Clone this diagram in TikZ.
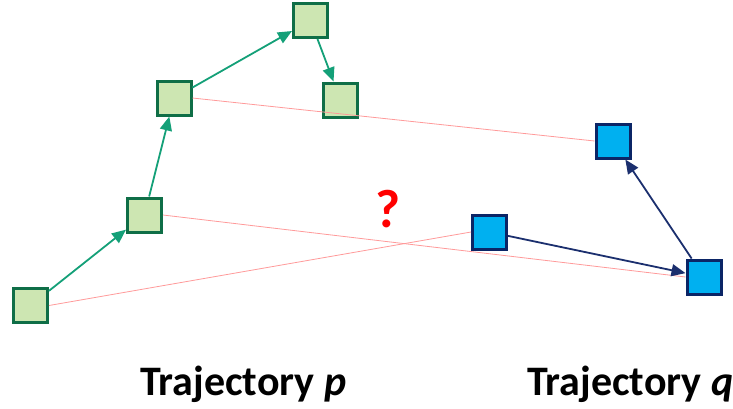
\documentclass[tikz,border=0pt]{standalone}
\usepackage{fontspec}
\setmainfont{Carlito}
\usetikzlibrary{arrows.meta}

\definecolor{pfill}{HTML}{CDE6B2}
\definecolor{pline}{HTML}{0F6E47}
\definecolor{parrow}{HTML}{14A078}
\definecolor{qfill}{HTML}{00B0F0}
\definecolor{qline}{HTML}{0B2566}
\definecolor{qarrow}{HTML}{1B2F6E}
\definecolor{matchline}{HTML}{FF9A9A}
\definecolor{qmark}{HTML}{FF0000}

\tikzset{
  pbox/.style={draw=pline, fill=pfill, line width=3pt, minimum size=34pt, inner sep=0pt},
  qbox/.style={draw=qline, fill=qfill, line width=3pt, minimum size=34pt, inner sep=0pt},
  parr/.style={draw=parrow, line width=1.8pt, -{Triangle[length=14pt,width=12pt]}},
  qarr/.style={draw=qarrow, line width=1.8pt, -{Triangle[length=14pt,width=12pt]}},
  pair/.style={draw=matchline, line width=0.8pt},
  caption/.style={font=\fontsize{42}{48}\selectfont\bfseries, inner sep=0pt, anchor=base west}
}

\begin{document}
\begin{tikzpicture}[x=1pt, y=-1pt]
  \useasboundingbox (0,0) rectangle (733,408);

  % trajectory p
  \node[pbox] (pA) at (30.5,305.5) {};
  \node[pbox] (pB) at (144.5,215) {};
  \node[pbox] (pC) at (174,98) {};
  \node[pbox] (pD) at (310.5,20.5) {};
  \node[pbox] (pE) at (340.5,100) {};

  % trajectory q
  \node[qbox] (qA) at (489.5,232) {};
  \node[qbox] (qB) at (704,277) {};
  \node[qbox] (qC) at (613,141) {};

  % point-to-point correspondences
  \draw[pair] (pC.east) -- (qC.west);
  \draw[pair] (pB.east) -- (qB.west);
  \draw[pair] (pA.east) -- (qA.west);

  % steps along each trajectory
  \draw[parr] (pA) -- (pB);
  \draw[parr] (pB) -- (pC);
  \draw[parr] (pC) -- (pD);
  \draw[parr] (pD) -- (pE);
  \draw[qarr] (qA) -- (qB);
  \draw[qarr] (qB) -- (qC);

  \node[font=\fontsize{54}{60}\selectfont\bfseries, text=qmark, inner sep=0pt] (ask) at (388,209) {?};

  \node[caption] (lp) at (140,395) {Trajectory \textit{p}};
  \node[caption] (lq) at (527,395) {Trajectory \textit{q}};
\end{tikzpicture}
\end{document}
